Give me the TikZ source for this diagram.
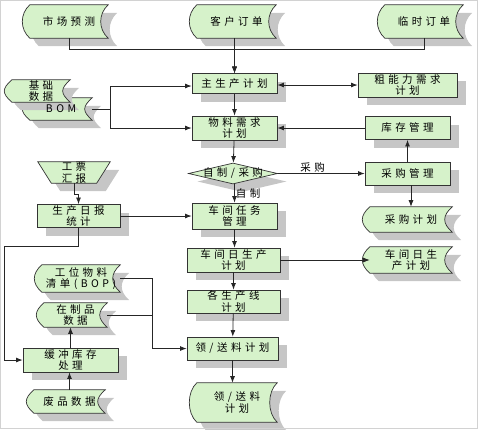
\documentclass[tikz,border=0pt]{standalone}
\usepackage{fontspec}
\newfontfamily\cjkfont[LetterSpace=33]{Noto Sans CJK SC}
\usepackage{xcolor}
\usepackage{tikz}
\usetikzlibrary{arrows.meta, shadows, backgrounds, shapes.geometric}
\definecolor{boxgreen}{HTML}{D6F2CA}

\begin{document}
\begin{tikzpicture}[
  x=1pt, y=1pt,
  font=\cjkfont\fontsize{10.5}{11.5}\selectfont,
  >=Latex,
  shade/.style={
    drop shadow={shadow xshift=9pt, shadow yshift=-8pt, fill=gray!45, opacity=1}
  },
  proc/.style={
    draw=black!80, fill=boxgreen, line width=0.7pt, align=center,
    inner sep=0pt, shade
  },
  datab/.style={align=center, inner sep=0pt},
  dataline/.style={draw=black!80, fill=boxgreen, line width=0.7pt, shade},
  decide/.style={
    diamond, draw=black!80, fill=boxgreen, line width=0.7pt, inner sep=0pt,
    minimum width=89, minimum height=21, shade
  },
  arr/.style={->, line width=0.8pt, draw=black!85},
  dbl/.style={<->, line width=0.8pt, draw=black!85},
  line/.style={line width=0.8pt, draw=black!85},
  lab/.style={inner sep=1pt}
]
  \useasboundingbox (0,0) rectangle (478,-429);
  \draw[gray!35] (0.5,-0.5) rectangle (477.5,-428.5);

  \node[datab, minimum width=78, minimum height=33] (mkt) at (69,-21.5) {市场预测};
  \node[datab, minimum width=79, minimum height=33] (cust) at (236.5,-21.5) {客户订单};
  \node[datab, minimum width=78, minimum height=33] (temp) at (424,-21.5) {临时订单};

  \node[proc, minimum width=85, minimum height=20] (mps) at (234.5,-83.5) {主生产计划};
  \node[proc, minimum width=85, minimum height=24] (mrp) at (234.5,-128) {物料需求\\计划};
  \node[decide] (dec) at (233,-173.5) {\makebox[0pt]{自制/采购}};
  \node[proc, minimum width=85, minimum height=26] (task) at (234.5,-216) {车间任务\\管理};
  \node[proc, minimum width=93, minimum height=24] (daily) at (233.5,-260) {车间日生产\\计划};
  \node[proc, minimum width=93, minimum height=23] (lines) at (233.5,-301.5) {各生产线\\计划};
  \node[proc, minimum width=91, minimum height=23] (feed) at (232.5,-348.5) {领/送料计划};
  \node[datab, minimum width=80, minimum height=39] (issue) at (237,-402.5) {领/送料\\计划};

  \node[proc, minimum width=99, minimum height=24] (rccp) at (407.5,-85) {粗能力需求\\计划};
  \node[proc, minimum width=85, minimum height=23] (inv) at (407.5,-128) {库存管理};
  \node[proc, minimum width=85, minimum height=23] (pur) at (407.5,-173.5) {采购管理};
  \node[datab, minimum width=82, minimum height=25] (buyplan) at (411,-219.5) {采购计划};
  \node[datab, minimum width=82, minimum height=26] (wsplan) at (411,-260) {车间日生\\产计划};

  \node[datab, minimum width=62, minimum height=22] (bom) at (61,-109) {BOM};
  \node[datab, minimum width=58, minimum height=22] (base) at (41,-91) {基础\\数据};
  \node[datab, minimum width=72, minimum height=21] (ticket) at (74,-172.5) {工票\\汇报};
  \node[proc, minimum width=83, minimum height=23] (report) at (78.5,-216) {生产日报\\统计};
  \node[datab, minimum width=78, minimum height=27] (bop) at (81,-278.5) {工位物料\\清单(BOP)};
  \node[datab, minimum width=63, minimum height=24] (wip) at (75.5,-315) {在制品\\数据};
  \node[proc, minimum width=95, minimum height=24] (buffer) at (70.5,-360) {缓冲库存\\处理};
  \node[datab, minimum width=71, minimum height=23] (scrap) at (69.5,-401.5) {废品数据};

  \begin{scope}[on background layer]
    \foreach \n in {mkt, cust, temp, issue, buyplan, wsplan, bom, base, bop, wip, scrap} {
      \path[dataline] (\n.north west) .. controls +(-10,-9) and +(-10,9) .. (\n.south west)
        -- (\n.south east) .. controls +(-10,9) and +(-10,-9) .. (\n.north east) -- cycle;
    }
    \path[dataline] (ticket.north west) -- (ticket.north east)
      -- ([xshift=-13.5pt]ticket.south east) -- ([xshift=13.5pt]ticket.south west) -- cycle;
  \end{scope}

  \draw[arr] (mkt.south) -- ++(0,-11) -| (mps.north);
  \draw[arr] (cust.south -| mps) -- (mps);
  \draw[arr] (temp.south) -- ++(0,-11) -| (mps.north);

  \draw[arr] (bom.east) -- ++(18,0) |- ([yshift=-2.5pt]mps.west);
  \draw[arr] (bom.east) -- ++(18,0) |- (mrp.west);
  \draw[dbl] ([yshift=-1.5pt]mps.east) -- (rccp.west);
  \draw[arr] (inv.west) -- (mrp.east);

  \draw[arr] (mps) -- (mrp);
  \draw[arr] (mrp) -- (dec);
  \draw[arr] (dec.south -| task) -- node[lab, right] {自制} (task);
  \draw[arr] (dec.east) -- node[lab, above, pos=0.4] {采购} (pur.west);
  \draw[arr] (pur) -- (inv);
  \draw[arr] (pur.south -| buyplan) -- (buyplan);

  \draw[arr] (task) -- (task |- daily.north);
  \draw[arr] (daily) -- (lines);
  \draw[arr] (lines) -- (feed);
  \draw[arr] (feed.south) -- (feed.south |- issue.north);
  \draw[arr] (daily.east) -- (wsplan.west);

  \draw[arr] (ticket.south) -- ++(0,-11) -| (report.north);
  \draw[arr] (report.east) -- (task.west);
  \draw[arr] (report.south) -- ++(0,-19) -| ([xshift=-18pt]buffer.west) -- (buffer.west);
  \draw[arr] (buffer.north) -- (buffer.north |- wip.south);
  \draw[arr] (scrap.north) -- (scrap.north |- buffer.south);
  \draw[arr] (bop.east) -- ++(32,0) coordinate (fj) |- (feed.west);
  \draw[line] (wip.east) -- (wip.east -| fj);
\end{tikzpicture}
\end{document}
